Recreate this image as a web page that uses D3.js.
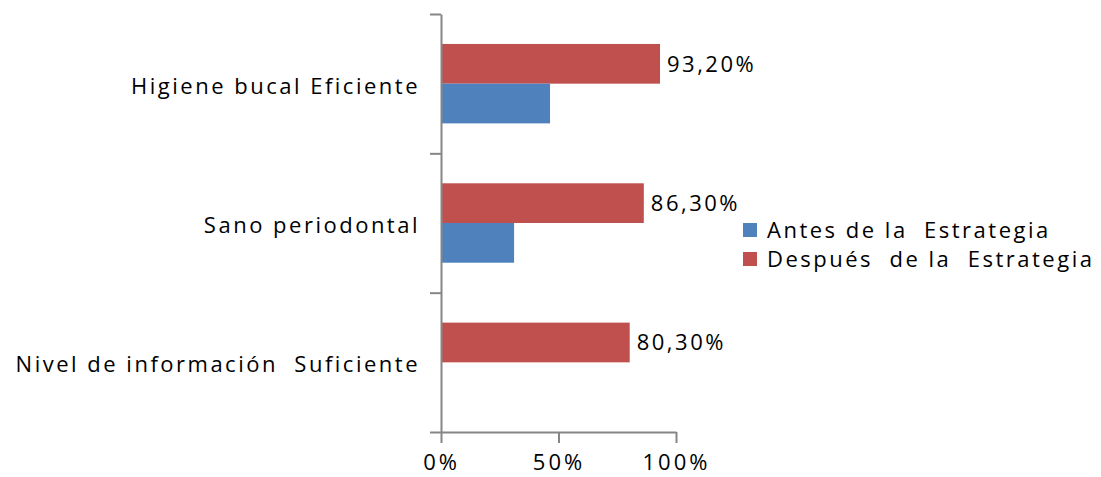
<!DOCTYPE html>
<html>
<head>
<meta charset="utf-8">
<script src="https://cdn.jsdelivr.net/npm/d3@7"></script>
<style>
  body { margin: 0; background: #fff; }
  text { font-family: "Open Sans", sans-serif; fill: #000; }
</style>
</head>
<body>
<script>
//chart data
var categories = ["Higiene bucal Eficiente", "Sano periodontal", "Nivel de información  Suficiente"];
var antes = [46.4, 31.1, 0];
var despues = [93.2, 86.3, 80.3];
var seriesNames = ["Antes de la  Estrategia", "Después  de la  Estrategia"];
var xTicks = [0, 50, 100];

var colors = ["#4F81BD", "#C0504D"];

var width = 1101,
    height = 477,
    plotLeft = 441,
    plotRight = 676,
    plotTop = 14,
    plotBottom = 432;

var svg = d3.select("body")
    .append("svg")
    .attr("width", width)
    .attr("height", height);

var x = d3.scaleLinear()
    .domain([0, 100])
    .range([plotLeft, plotRight]);

var y = d3.scaleBand()
    .domain(categories)
    .range([plotTop, plotBottom])
    .paddingInner(0.43)
    .paddingOuter(0.215);

//red bar sits above the blue one
var sub = d3.scaleBand()
    .domain(["despues", "antes"])
    .range([0, y.bandwidth()]);

//band boundaries for y ticks
var yEdges = d3.scaleLinear()
    .domain([0, categories.length])
    .range([plotTop, plotBottom]);

var rows = categories.map(function(c, i){
    return {name: c, antes: antes[i], despues: despues[i]};
});

//bars
var groups = svg.selectAll(".grp")
    .data(rows)
    .enter()
    .append("g")
    .attr("class", "grp")
    .attr("transform", function(d){ return "translate(0," + y(d.name) + ")"; });

groups.append("rect")
    .attr("x", x(0))
    .attr("y", sub("despues"))
    .attr("width", function(d){ return x(d.despues) - x(0); })
    .attr("height", sub.bandwidth())
    .style("fill", colors[1]);

groups.append("rect")
    .attr("x", x(0))
    .attr("y", sub("antes"))
    .attr("width", function(d){ return x(d.antes) - x(0); })
    .attr("height", sub.bandwidth())
    .style("fill", colors[0]);

//value labels on red bars
groups.append("text")
    .attr("x", function(d){ return x(d.despues) + 7; })
    .attr("y", sub("despues") + sub.bandwidth() / 2)
    .attr("dy", "0.36em")
    .style("font-size", "22px")
    .style("letter-spacing", "2.5px")
    .text(function(d){ return d.despues.toFixed(2).replace(".", ",") + "%"; });

//y axis
var yAxis = svg.append("g")
    .attr("transform", "translate(" + plotLeft + ",0)")
    .call(d3.axisLeft(yEdges).ticks(3).tickSize(11).tickSizeOuter(0).tickFormat(""));

//x axis
var xAxis = svg.append("g")
    .attr("transform", "translate(0," + plotBottom + ")")
    .call(d3.axisBottom(x).tickValues(xTicks).tickSize(11).tickSizeOuter(0)
        .tickFormat(function(d){ return d + "%"; }));

svg.selectAll(".domain, .tick line")
    .attr("stroke", "#868686")
    .attr("stroke-width", 2);

xAxis.selectAll(".tick text")
    .attr("y", 22)
    .attr("dy", "0.71em")
    .style("font-family", "'Open Sans', sans-serif")
    .style("font-size", "22px")
    .style("letter-spacing", "3px")
    .style("fill", "#000");

//category labels
svg.selectAll(".catLabel")
    .data(categories)
    .enter()
    .append("text")
    .attr("class", "catLabel")
    .attr("x", plotLeft - 21)
    .attr("y", function(d){ return y(d) + y.bandwidth() / 2 + 2; })
    .attr("dy", "0.36em")
    .attr("text-anchor", "end")
    .style("font-size", "22px")
    .style("letter-spacing", "2.5px")
    .style("white-space", "pre")
    .text(function(d){ return d; });

//legend
var legend = svg.selectAll(".legend")
    .data(seriesNames)
    .enter()
    .append("g")
    .attr("class", "legend")
    .attr("transform", function(d, i){ return "translate(743," + (230 + i * 29) + ")"; });

legend.append("rect")
    .attr("x", 0)
    .attr("y", -7)
    .attr("width", 14)
    .attr("height", 14)
    .style("fill", function(d, i){ return colors[i]; });

legend.append("text")
    .attr("x", 24)
    .attr("dy", "0.36em")
    .style("font-size", "22px")
    .style("letter-spacing", "2.5px")
    .style("white-space", "pre")
    .text(function(d){ return d; });
</script>
</body>
</html>
